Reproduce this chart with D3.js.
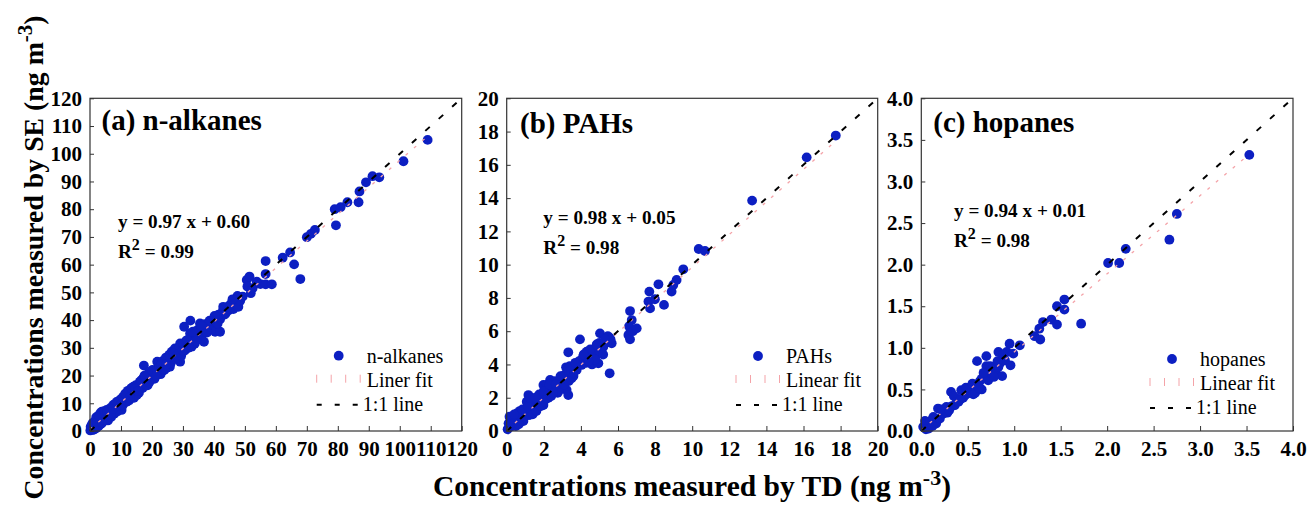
<!DOCTYPE html>
<html><head><meta charset="utf-8">
<script src="https://cdn.jsdelivr.net/npm/d3@7"></script>
<style>
html,body{margin:0;padding:0;background:#fff;}
text{font-family:"Liberation Serif","Times New Roman",serif;}
</style></head>
<body>
<svg id="chart" width="1309" height="527"></svg>
<script>
// ---------- DATA ----------
const alkanesTD = [0.1,0.3,0.6,0.8,1.0,1.2,1.5,1.8,2.2,2.5,2.8,3.0,3.3,3.8,4.0,4.5,5.0,5.4,5.4,6.0,6.5,7.0,7.5,8.0,8.5,9.1,9.5,9.7,10.2,10.8,11.0,11.5,12.0,12.4,12.9,13.5,13.8,14.0,14.5,15.1,15.5,16.1,16.5,17.2,17.4,17.8,18.3,18.8,19.3,19.8,20.5,21.0,21.7,22.0,22.6,23.2,23.7,24.2,24.8,25.3,25.8,26.4,26.8,27.4,28.0,28.5,29.1,29.1,29.6,30.4,30.2,31.2,31.8,32.3,32.4,32.8,33.5,34.0,34.7,35.3,35.5,36.2,36.8,37.5,38.2,39.3,39.3,40.4,40.8,42.0,42.0,42.8,43.5,44.0,44.5,45.7,46.3,46.8,47.6,47.9,48.5,49.3,50.6,50.8,51.5,51.9,52.5,53.8,55.0,56.7,56.7,56.7,58.7,62.2,64.6,65.9,67.9,70.0,71.3,72.6,79.0,79.4,80.9,83.1,86.7,87.0,89.1,91.2,93.4,101.2,109.0,
  0.5,1.0,1.5,2.0,2.0,2.8,3.5,4.2,4.8,5.8,6.2,6.8,7.2,7.8,8.2,8.8,9.2,10.0,10.5,11.2,11.8,12.2,12.6,13.2,13.8,14.2,14.8,15.2,15.8,16.2,16.8,17.0,17.6,18.0,18.6,19.0,19.6,20.2,20.8,21.3,22.3,22.8,23.4,24.0,24.5,25.0,25.6,26.1,26.6,27.2,27.8,28.3,28.8,29.4,30.0,30.6,31.0,31.5,33.0,33.8,34.4,35.8,37.0,38.0,38.6,40.0,41.2,41.5,43.0,44.8,45.2,
  0.2,0.7,1.3,2.4,3.1,3.9,4.6,5.6,6.6,7.4,8.6,9.9,10.6,11.4,12.8,13.4,14.6,15.6,16.4,17.9,19.1,20.0,21.4,22.4,23.0,24.6,25.9,27.0,28.2,29.9,31.4,32.0,33.2,34.2,36.0,37.8,40.2,43.8,46.0];
const alkanesSE = [0.2,0.5,1.2,0.8,0.4,2.0,1.0,3.0,2.2,4.0,1.8,3.2,6.4,7.0,4.5,3.6,6.0,7.6,4.6,5.2,8.2,6.3,9.4,7.5,8.8,10.6,8.6,11.2,7.6,12.4,10.2,11.0,12.8,13.6,11.8,14.2,12.6,16.0,14.0,13.0,15.6,17.8,15.8,19.0,23.6,17.0,17.2,19.6,18.2,20.5,20.8,19.6,25.0,22.5,22.0,21.5,23.8,24.6,22.8,25.6,23.2,28.6,26.0,29.8,27.0,28.2,31.6,25.0,28.0,37.6,29.5,31.0,30.0,35.2,39.8,30.4,33.0,35.5,36.4,34.0,38.8,35.0,32.2,37.0,36.5,39.4,37.0,35.8,39.5,40.3,35.8,43.0,42.0,43.5,44.8,46.1,44.0,46.5,48.7,44.8,47.0,48.5,54.5,52.1,55.7,49.7,51.5,53.9,53.0,61.3,56.6,52.9,52.9,62.5,64.4,60.1,54.8,69.9,71.1,72.5,80.0,74.2,80.7,82.5,82.5,86.4,89.7,91.9,91.5,97.3,105.0,
  2.0,3.0,2.5,1.0,5.0,5.5,2.5,6.5,5.0,3.8,7.0,5.0,8.5,6.2,9.8,7.0,9.0,11.5,9.2,12.8,10.5,14.5,11.0,15.2,13.5,12.0,16.5,14.8,13.8,16.5,18.5,15.5,20.0,18.5,16.5,21.0,19.0,22.0,18.8,21.5,24.0,20.5,25.2,22.0,26.5,24.2,27.5,24.5,27.0,26.0,29.0,26.5,30.0,27.0,31.5,29.0,32.5,30.0,34.0,31.5,33.5,36.5,38.5,38.0,39.8,40.0,38.8,42.0,44.8,43.5,45.5,
  1.5,2.5,0.5,3.2,5.2,3.0,7.2,6.8,6.0,8.0,10.5,9.5,12.2,13.5,12.0,15.5,15.2,14.5,18.0,19.5,17.5,21.8,20.0,23.2,24.0,24.0,26.8,28.0,27.5,29.0,32.8,31.0,35.8,32.5,37.8,35.5,41.5,42.5,47.5];

const pahsTD = [0.05,0.1,0.15,0.18,0.3,0.45,0.54,0.6,0.72,0.8,0.9,1.0,1.08,1.17,1.2,1.35,1.44,1.5,1.6,1.7,1.8,1.9,1.98,1.98,2.07,2.16,2.25,2.34,2.43,2.55,2.70,2.75,2.88,2.95,3.05,3.15,3.20,3.23,3.32,3.32,3.32,3.45,3.50,3.65,3.77,3.85,3.95,4.04,4.1,4.22,4.31,4.45,4.58,4.6,4.67,4.8,4.94,5.03,5.03,5.1,5.21,5.35,5.53,5.55,5.66,6.56,6.65,6.65,6.68,6.74,6.6,6.8,7.01,7.64,7.69,7.73,7.99,8.18,8.48,8.89,8.98,9.16,9.52,10.35,10.69,13.23,16.17,17.74,
  0.3,0.5,0.7,0.9,1.1,1.3,1.4,1.6,1.75,2.1,2.2,2.4,2.6,2.8,3.0,3.1,3.4,3.6,3.9,4.3,4.5,4.75,5.0,5.2,5.45,5.6,
  0.2,0.4,0.65,0.85,1.15,1.25,1.55,1.85,2.0,2.3,2.5,2.65,2.9,3.35,3.7,4.15,4.4,4.85,5.3];
const pahsSE = [0.1,0.46,0.86,0.26,0.3,0.66,1.06,0.5,0.86,0.7,1.0,1.26,1.76,2.16,0.95,1.16,1.56,1.3,1.7,1.45,2.06,1.8,1.56,2.77,2.26,2.77,2.0,3.07,2.46,2.6,2.87,2.3,2.67,3.1,2.97,3.4,3.83,2.46,2.16,3.67,4.73,3.5,3.17,3.6,3.67,4.0,5.51,3.97,4.4,4.27,4.77,4.6,4.37,4.0,4.87,4.5,4.07,4.77,5.87,5.0,5.07,5.3,5.63,3.47,5.27,5.77,5.51,7.21,6.07,6.67,6.3,6.0,6.17,7.78,8.38,7.37,7.92,8.82,7.58,8.38,8.78,9.08,9.72,10.94,10.82,13.85,16.45,17.76,
  0.8,0.3,1.2,0.6,1.4,1.9,1.0,1.2,2.2,1.9,2.5,2.1,3.0,2.4,3.3,2.8,3.9,3.3,4.2,4.1,4.9,4.3,5.3,4.6,5.7,5.5,
  0.4,1.0,0.4,1.3,1.5,2.0,2.0,1.5,2.4,2.8,2.3,2.8,3.3,3.0,4.1,4.6,4.2,5.2,5.5];

const hopanesTD = [0.02,0.04,0.06,0.08,0.1,0.13,0.16,0.18,0.2,0.24,0.27,0.28,0.32,0.33,0.36,0.38,0.4,0.43,0.45,0.47,0.5,0.52,0.54,0.56,0.58,0.6,0.6,0.63,0.65,0.65,0.68,0.70,0.70,0.72,0.75,0.77,0.8,0.83,0.83,0.85,0.87,0.9,0.92,0.95,0.96,0.99,1.06,1.22,1.27,1.28,1.31,1.40,1.46,1.46,1.54,1.54,1.72,2.01,2.13,2.20,2.67,2.75,3.53,
  0.05,0.12,0.22,0.3,0.35,0.42,0.48,0.55,0.62,0.67,0.74,0.78,0.82,0.88];
const hopanesSE = [0.05,0.12,0.09,0.03,0.12,0.17,0.09,0.27,0.15,0.21,0.29,0.22,0.47,0.3,0.31,0.39,0.35,0.49,0.4,0.43,0.45,0.5,0.53,0.44,0.46,0.84,0.55,0.6,0.63,0.50,0.66,0.90,0.78,0.61,0.7,0.77,0.72,0.95,0.77,0.82,0.66,0.85,0.95,1.05,0.79,0.93,1.03,1.14,1.23,1.10,1.31,1.34,1.50,1.28,1.58,1.46,1.29,2.02,2.02,2.19,2.30,2.61,3.32,
  0.02,0.06,0.26,0.25,0.42,0.38,0.52,0.57,0.52,0.7,0.78,0.65,0.84,0.92];

const alkanesTicks = [0,10,20,30,40,50,60,70,80,90,100,110,120];
const pahsTicks = [0,2,4,6,8,10,12,14,16,18,20];
const hopanesTicks = [0,0.5,1.0,1.5,2.0,2.5,3.0,3.5,4.0];

const panelTitles = ["(a) n-alkanes","(b) PAHs","(c) hopanes"];
const fitSlopes = [0.97,0.98,0.94];
const fitIntercepts = [0.60,0.05,0.01];
const fitEquations = ["y = 0.97 x + 0.60","y = 0.98 x + 0.05","y = 0.94 x + 0.01"];
const r2Values = ["0.99","0.98","0.98"];
const legendSeries = ["n-alkanes","PAHs","hopanes"];
const legendFit = ["Liner fit","Linear fit","Linear fit"];
const legendOne = "1:1 line";

// ---------- LAYOUT ----------
const svg = d3.select("#chart");
const plotTop = 98.3, plotBottom = 431;
const panels = [
  {x: alkanesTD, y: alkanesSE, ticks: alkanesTicks, max: 120, fmt: d3.format("d"), left: 90, right: 461.7,
   titleDX: 11.5, titleY: 130, eqDX: 28, eqY: 228, legDX: -95, legY: 362.7},
  {x: pahsTD, y: pahsSE, ticks: pahsTicks, max: 20, fmt: d3.format("d"), left: 506.7, right: 877.7,
   titleDX: 13.3, titleY: 133, eqDX: 36.6, eqY: 224, legDX: -91.7, legY: 363},
  {x: hopanesTD, y: hopanesSE, ticks: hopanesTicks, max: 4, fmt: d3.format(".1f"), left: 921.3, right: 1293,
   titleDX: 12, titleY: 131.7, eqDX: 32.7, eqY: 217.3, legDX: -93, legY: 366}
];
const blue = "#0c1fc2";
const pink = "#f4a3a8";
const dotR = 4.9;

panels.forEach((p, i) => {
  const x = d3.scaleLinear().domain([0, p.max]).range([p.left, p.right]);
  const y = d3.scaleLinear().domain([0, p.max]).range([plotBottom, plotTop]);
  const g = svg.append("g");

  // points
  g.append("g").selectAll("circle").data(d3.range(p.x.length)).join("circle")
    .attr("cx", k => x(p.x[k])).attr("cy", k => y(p.y[k])).attr("r", dotR)
    .attr("fill", blue);

  // linear fit
  const xmax = d3.max(p.x);
  g.append("line")
    .attr("x1", x(0)).attr("y1", y(fitIntercepts[i]))
    .attr("x2", x(xmax)).attr("y2", y(fitSlopes[i] * xmax + fitIntercepts[i]))
    .attr("stroke", pink).attr("stroke-width", 1.3).attr("stroke-dasharray", "3,8");

  // 1:1 line
  g.append("line")
    .attr("x1", x(0)).attr("y1", y(0)).attr("x2", x(p.max)).attr("y2", y(p.max))
    .attr("stroke", "#000").attr("stroke-width", 2).attr("stroke-dasharray", "6,12");

  // axes
  const xAxis = d3.axisBottom(x).tickValues(p.ticks).tickFormat(p.fmt).tickSizeInner(-5).tickSizeOuter(0).tickPadding(10);
  const yAxis = d3.axisLeft(y).tickValues(p.ticks).tickFormat(p.fmt).tickSizeInner(-4).tickSizeOuter(0).tickPadding(8);
  const gx = g.append("g").attr("transform", `translate(0,${plotBottom})`).call(xAxis);
  const gy = g.append("g").attr("transform", `translate(${p.left},0)`).call(yAxis);
  [gx, gy].forEach(a => {
    a.select(".domain").remove();
    a.selectAll("line").attr("stroke", "#333");
    a.selectAll("text").attr("font-size", 21).attr("font-weight", "bold").attr("fill", "#000")
      .style("font-family", "'Liberation Serif', serif");
  });
  gx.selectAll("text").attr("dy", "0.71em");

  // frame
  g.append("rect").attr("x", p.left).attr("y", plotTop).attr("width", p.right - p.left).attr("height", plotBottom - plotTop)
    .attr("fill", "none").attr("stroke", "#333").attr("stroke-width", 1.2);

  // panel title
  g.append("text").attr("x", p.left + p.titleDX).attr("y", p.titleY)
    .attr("font-size", 29).attr("font-weight", "bold").text(panelTitles[i]);

  // equation
  g.append("text").attr("x", p.left + p.eqDX).attr("y", p.eqY)
    .attr("font-size", 19.2).attr("font-weight", "bold").text(fitEquations[i]);
  const r2 = g.append("text").attr("x", p.left + p.eqDX).attr("y", p.eqY + 30)
    .attr("font-size", 19.2).attr("font-weight", "bold");
  r2.append("tspan").text("R");
  r2.append("tspan").attr("dy", -8).attr("font-size", 16).text("2");
  r2.append("tspan").attr("dy", 8).text(" = " + r2Values[i]);

  // legend
  const lx = p.right + p.legDX, ly = p.legY;
  g.append("circle").attr("cx", lx - 28).attr("cy", ly - 7).attr("r", dotR).attr("fill", blue);
  g.append("text").attr("x", lx).attr("y", ly).attr("font-size", 20).text(legendSeries[i]);
  [0, 1, 2, 3].forEach(k => {
    g.append("line").attr("x1", lx - 50 + k * 14.5).attr("x2", lx - 50 + k * 14.5)
      .attr("y1", ly + 24 - 12).attr("y2", ly + 24 - 4).attr("stroke", pink).attr("stroke-width", 1);
  });
  g.append("text").attr("x", lx).attr("y", ly + 24).attr("font-size", 20).text(legendFit[i]);
  g.append("line").attr("x1", lx - 50).attr("x2", lx - 4).attr("y1", ly + 48 - 6).attr("y2", ly + 48 - 6)
    .attr("stroke", "#000").attr("stroke-width", 2).attr("stroke-dasharray", "5,13");
  g.append("text").attr("x", lx - 4).attr("y", ly + 48).attr("font-size", 20).text(legendOne);
});

// axis titles
const xt = svg.append("text").attr("x", 692).attr("y", 496).attr("text-anchor", "middle")
  .attr("font-size", 29.5).attr("font-weight", "bold");
xt.append("tspan").text("Concentrations measured by TD (ng m");
xt.append("tspan").attr("dy", -11).attr("font-size", 22).text("-3");
xt.append("tspan").attr("dy", 11).text(")");

const yt = svg.append("text").attr("transform", "translate(43,257.5) rotate(-90)").attr("text-anchor", "middle")
  .attr("font-size", 27.8).attr("font-weight", "bold");
yt.append("tspan").text("Concentrations measured by SE (ng m");
yt.append("tspan").attr("dy", -11).attr("font-size", 21).text("-3");
yt.append("tspan").attr("dy", 11).text(")");
</script>
</body></html>
